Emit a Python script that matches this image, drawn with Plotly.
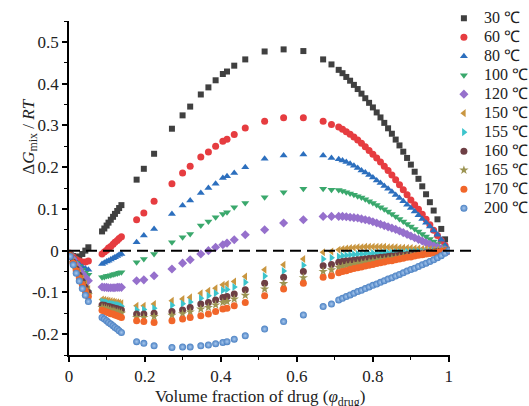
import plotly.graph_objects as go

# Volume fraction of drug at which the free energy of mixing was evaluated
phi_drug = (
    [0.003, 0.011, 0.019, 0.027, 0.035, 0.043, 0.051]
    + [0.087, 0.093, 0.099, 0.104, 0.110, 0.116, 0.121, 0.127, 0.132, 0.138]
    + [0.178, 0.197, 0.224, 0.271, 0.299, 0.319, 0.347, 0.367, 0.386, 0.405,
       0.416, 0.435, 0.464, 0.515, 0.565, 0.617, 0.669, 0.691]
    + [0.71, 0.72, 0.73, 0.74, 0.75, 0.76, 0.77, 0.78, 0.79, 0.80,
       0.81, 0.82, 0.83, 0.84, 0.85, 0.86, 0.87, 0.88, 0.89, 0.90,
       0.91, 0.92, 0.93, 0.94, 0.95, 0.96, 0.97, 0.98, 0.99, 1.00]
)

# ΔGmix/RT for each temperature
dg_30 = ([-0.006, -0.013, -0.016, -0.014, -0.008, 0.000, 0.008]
         + [0.046, 0.053, 0.060, 0.067, 0.074, 0.081, 0.088, 0.095, 0.102, 0.109]
         + [0.170, 0.196, 0.232, 0.292, 0.324, 0.345, 0.374, 0.391, 0.408, 0.423,
            0.429, 0.443, 0.458, 0.477, 0.482, 0.478, 0.458, 0.446]
         + [0.433, 0.425, 0.416, 0.407, 0.397, 0.387, 0.376, 0.365, 0.354, 0.343,
            0.331, 0.319, 0.306, 0.293, 0.280, 0.266, 0.252, 0.237, 0.222, 0.206,
            0.189, 0.172, 0.154, 0.135, 0.116, 0.096, 0.075, 0.052, 0.027, 0.000])
dg_60 = ([-0.006, -0.015, -0.021, -0.025, -0.027, -0.027, -0.025]
         + [-0.008, -0.003, 0.001, 0.006, 0.010, 0.015, 0.020, 0.024, 0.029, 0.033]
         + [0.074, 0.090, 0.118, 0.160, 0.186, 0.202, 0.224, 0.236, 0.250, 0.262,
            0.267, 0.278, 0.294, 0.310, 0.318, 0.318, 0.310, 0.302]
         + [0.296, 0.291, 0.285, 0.279, 0.272, 0.265, 0.257, 0.249, 0.240, 0.231,
            0.222, 0.212, 0.202, 0.192, 0.181, 0.170, 0.158, 0.146, 0.134, 0.121,
            0.110, 0.099, 0.087, 0.075, 0.062, 0.049, 0.036, 0.024, 0.012, 0.000])
dg_80 = ([-0.007, -0.017, -0.026, -0.033, -0.039, -0.043, -0.046]
         + [-0.032, -0.029, -0.026, -0.024, -0.021, -0.018, -0.016, -0.013, -0.010, -0.008]
         + [0.020, 0.036, 0.052, 0.088, 0.108, 0.120, 0.138, 0.150, 0.160, 0.174,
            0.178, 0.186, 0.200, 0.220, 0.228, 0.230, 0.228, 0.222]
         + [0.219, 0.216, 0.212, 0.208, 0.203, 0.198, 0.192, 0.187, 0.181, 0.175,
            0.168, 0.162, 0.155, 0.148, 0.141, 0.133, 0.126, 0.118, 0.110, 0.102,
            0.094, 0.085, 0.076, 0.067, 0.058, 0.048, 0.038, 0.026, 0.013, 0.000])
dg_100 = ([-0.008, -0.019, -0.029, -0.038, -0.046, -0.053, -0.058]
          + [-0.064, -0.063, -0.061, -0.060, -0.059, -0.057, -0.056, -0.055, -0.053, -0.052]
          + [-0.028, -0.020, -0.008, 0.020, 0.032, 0.040, 0.060, 0.070, 0.080, 0.088,
             0.092, 0.104, 0.114, 0.128, 0.140, 0.148, 0.148, 0.146]
          + [0.145, 0.143, 0.140, 0.137, 0.134, 0.130, 0.127, 0.123, 0.118, 0.114,
             0.109, 0.104, 0.099, 0.094, 0.088, 0.082, 0.076, 0.070, 0.064, 0.058,
             0.052, 0.046, 0.040, 0.034, 0.028, 0.022, 0.016, 0.010, 0.005, 0.000])
dg_120 = ([-0.009, -0.021, -0.033, -0.044, -0.055, -0.064, -0.072]
          + [-0.087, -0.088, -0.088, -0.089, -0.089, -0.089, -0.089, -0.088, -0.088, -0.088]
          + [-0.072, -0.070, -0.060, -0.044, -0.030, -0.022, -0.008, 0.000, 0.008, 0.014,
             0.018, 0.026, 0.038, 0.050, 0.066, 0.074, 0.082, 0.082]
          + [0.082, 0.082, 0.081, 0.080, 0.079, 0.078, 0.076, 0.074, 0.072, 0.069,
             0.066, 0.063, 0.060, 0.057, 0.054, 0.051, 0.047, 0.043, 0.039, 0.035,
             0.031, 0.027, 0.023, 0.019, 0.015, 0.011, 0.008, 0.005, 0.002, 0.000])
dg_150 = ([-0.010, -0.026, -0.040, -0.054, -0.068, -0.080, -0.092]
          + [-0.117, -0.118, -0.119, -0.120, -0.121, -0.122, -0.123, -0.124, -0.125, -0.126]
          + [-0.132, -0.132, -0.128, -0.120, -0.116, -0.112, -0.102, -0.096, -0.090, -0.082,
             -0.080, -0.074, -0.062, -0.046, -0.034, -0.020, -0.004, -0.002]
          + [0.002, 0.004, 0.005, 0.006, 0.007, 0.008, 0.008, 0.009, 0.009, 0.009,
             0.009, 0.009, 0.009, 0.008, 0.008, 0.008, 0.007, 0.007, 0.006, 0.006,
             0.005, 0.005, 0.004, 0.004, 0.003, 0.002, 0.002, 0.001, 0.001, 0.000])
dg_155 = ([-0.011, -0.027, -0.042, -0.057, -0.071, -0.084, -0.096]
          + [-0.122, -0.123, -0.124, -0.126, -0.127, -0.128, -0.129, -0.130, -0.131, -0.133]
          + [-0.142, -0.141, -0.138, -0.131, -0.127, -0.123, -0.114, -0.108, -0.102, -0.095,
             -0.093, -0.087, -0.076, -0.061, -0.049, -0.035, -0.020, -0.017]
          + [-0.014, -0.012, -0.011, -0.010, -0.009, -0.008, -0.008, -0.007, -0.007, -0.006,
             -0.006, -0.006, -0.005, -0.005, -0.005, -0.004, -0.004, -0.004, -0.003, -0.003,
             -0.003, -0.002, -0.002, -0.002, -0.002, -0.001, -0.001, -0.001, 0.000, 0.000])
dg_160 = ([-0.011, -0.028, -0.044, -0.059, -0.074, -0.088, -0.100]
          + [-0.130, -0.131, -0.133, -0.134, -0.135, -0.137, -0.138, -0.139, -0.141, -0.142]
          + [-0.152, -0.152, -0.150, -0.146, -0.142, -0.136, -0.128, -0.124, -0.118, -0.112,
             -0.110, -0.104, -0.094, -0.078, -0.064, -0.050, -0.036, -0.033]
          + [-0.028, -0.026, -0.025, -0.024, -0.023, -0.022, -0.021, -0.020, -0.019, -0.018,
             -0.017, -0.016, -0.015, -0.014, -0.013, -0.012, -0.011, -0.011, -0.010, -0.009,
             -0.008, -0.007, -0.006, -0.005, -0.004, -0.003, -0.002, -0.002, -0.001, 0.000])
dg_165 = ([-0.012, -0.029, -0.046, -0.062, -0.077, -0.092, -0.105]
          + [-0.136, -0.138, -0.139, -0.141, -0.142, -0.144, -0.145, -0.147, -0.148, -0.150]
          + [-0.160, -0.160, -0.158, -0.155, -0.151, -0.147, -0.140, -0.136, -0.130, -0.124,
             -0.122, -0.116, -0.107, -0.092, -0.079, -0.065, -0.050, -0.046]
          + [-0.040, -0.038, -0.036, -0.034, -0.033, -0.031, -0.030, -0.028, -0.027, -0.025,
             -0.024, -0.022, -0.021, -0.020, -0.018, -0.017, -0.016, -0.014, -0.013, -0.012,
             -0.010, -0.009, -0.008, -0.007, -0.005, -0.004, -0.003, -0.002, -0.001, 0.000])
dg_170 = ([-0.012, -0.030, -0.048, -0.065, -0.081, -0.097, -0.110]
          + [-0.143, -0.145, -0.147, -0.149, -0.151, -0.152, -0.154, -0.156, -0.158, -0.160]
          + [-0.168, -0.170, -0.172, -0.168, -0.164, -0.160, -0.156, -0.152, -0.146, -0.140,
             -0.138, -0.132, -0.124, -0.108, -0.092, -0.078, -0.064, -0.060]
          + [-0.053, -0.050, -0.048, -0.045, -0.043, -0.041, -0.039, -0.037, -0.035, -0.033,
             -0.031, -0.029, -0.027, -0.025, -0.024, -0.022, -0.020, -0.018, -0.016, -0.015,
             -0.013, -0.011, -0.010, -0.008, -0.007, -0.005, -0.004, -0.002, -0.001, 0.000])
dg_200 = ([-0.014, -0.034, -0.054, -0.073, -0.091, -0.107, -0.122]
          + [-0.160, -0.164, -0.168, -0.172, -0.176, -0.180, -0.184, -0.188, -0.192, -0.196]
          + [-0.218, -0.222, -0.228, -0.232, -0.231, -0.231, -0.228, -0.226, -0.223, -0.220,
             -0.218, -0.212, -0.204, -0.188, -0.170, -0.154, -0.134, -0.128]
          + [-0.118, -0.114, -0.110, -0.106, -0.102, -0.098, -0.095, -0.091, -0.087, -0.083,
             -0.080, -0.076, -0.072, -0.068, -0.065, -0.061, -0.057, -0.053, -0.049, -0.045,
             -0.042, -0.038, -0.034, -0.030, -0.026, -0.022, -0.017, -0.012, -0.006, 0.000])

temperatures = ["30 ℃", "60 ℃", "80 ℃", "100 ℃", "120 ℃", "150 ℃",
                "155 ℃", "160 ℃", "165 ℃", "170 ℃", "200 ℃"]
series = [dg_30, dg_60, dg_80, dg_100, dg_120, dg_150,
          dg_155, dg_160, dg_165, dg_170, dg_200]

x_tickvals = [0, 0.2, 0.4, 0.6, 0.8, 1]
x_ticktext = ["0", "0.2", "0.4", "0.6", "0.8", "1"]
y_tickvals = [-0.2, -0.1, 0, 0.1, 0.2, 0.3, 0.4, 0.5]
y_ticktext = ["-0.2", "-0.1", "0", "0.1", "0.2", "0.3", "0.4", "0.5"]

styles = [
    dict(symbol="square", color="#404040", size=6),
    dict(symbol="circle", color="#e63c40", size=7),
    dict(symbol="triangle-up", color="#2c6fbe", size=7),
    dict(symbol="triangle-down", color="#3aa86c", size=7),
    dict(symbol="diamond", color="#9670cc", size=7),
    dict(symbol="triangle-left", color="#c99640", size=7),
    dict(symbol="triangle-right", color="#3cc4cc", size=7),
    dict(symbol="circle", color="#6e3f44", size=7),
    dict(symbol="star", color="#9c9452", size=7),
    dict(symbol="circle", color="#f1662a", size=7),
    dict(symbol="circle", color="#4a80c2", size=7,
         gradient=dict(type="radial", color="#a8c8ee")),
]

SERIF = "Liberation Serif"

fig = go.Figure()
for name, vals, st in zip(temperatures, series, styles):
    fig.add_trace(go.Scatter(
        x=phi_drug, y=vals, mode="markers",
        name=f'<span style="font-size:16px">{name}</span>',
        marker=dict(line=dict(width=0), **st),
    ))

# zero reference line
fig.add_shape(type="line", xref="paper", yref="y", x0=0, x1=1.06, y0=0, y1=0,
              line=dict(color="black", width=2, dash="11px,6px"), layer="above")

axis_common = dict(
    showline=True, linecolor="black", linewidth=1.5,
    ticks="outside", ticklen=5, tickwidth=1.5, tickcolor="black",
    showgrid=False, zeroline=False, mirror=False,
    tickfont=dict(family=SERIF, size=17, color="#222"),
)

fig.update_xaxes(range=[0, 1.003], tickvals=x_tickvals, ticktext=x_ticktext,
                 minor=dict(dtick=0.1, ticks="outside", ticklen=3, tickwidth=1.2,
                            tickcolor="black", tick0=0),
                 **axis_common)
fig.update_yaxes(range=[-0.25, 0.55], tickvals=y_tickvals, ticktext=y_ticktext,
                 minor=dict(dtick=0.05, ticks="outside", ticklen=3, tickwidth=1.2,
                            tickcolor="black", tick0=0),
                 **axis_common)

fig.add_annotation(text="Δ<i>G</i><sub>mix</sub> / <i>RT</i>", textangle=-90,
                   xref="paper", yref="paper", x=-0.103, y=0.653,
                   xanchor="center", yanchor="middle", showarrow=False,
                   font=dict(family=SERIF, size=17, color="#222"))
fig.add_annotation(text="Volume fraction of drug (<i>φ</i><sub>drug</sub>)",
                   xref="paper", yref="paper", x=0.5, y=-0.09,
                   xanchor="center", yanchor="top", showarrow=False,
                   font=dict(family=SERIF, size=17, color="#222"))

fig.update_layout(
    width=529, height=406,
    margin=dict(l=69, r=79, t=21, b=51, autoexpand=False),
    paper_bgcolor="white", plot_bgcolor="white",
    showlegend=True,
    legend=dict(x=0.984, y=1.052, xanchor="left", yanchor="top",
                font=dict(family=SERIF, size=12, color="#222"),
                bgcolor="rgba(0,0,0,0)", borderwidth=0, maxheight=380,
                itemsizing="trace", tracegroupgap=0),
)

fig.write_html("out.html")
